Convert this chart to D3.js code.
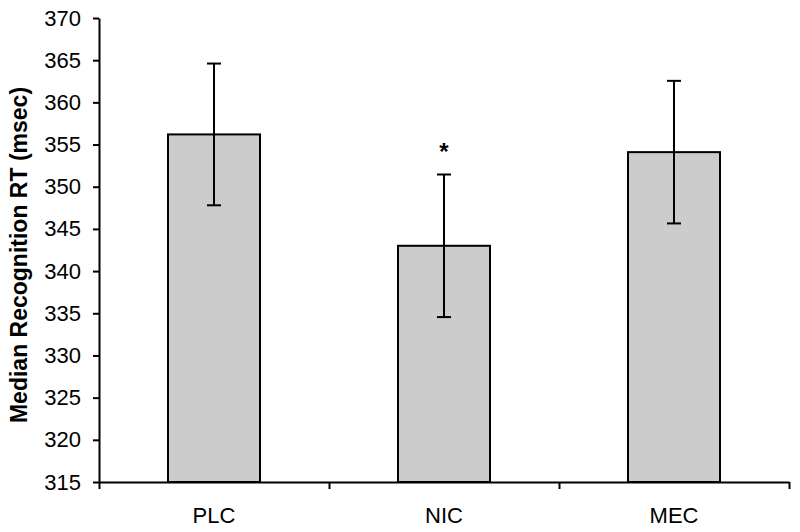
<!DOCTYPE html>
<html>
    <head>
        <meta charset="utf-8">
        <title>Median Recognition RT</title>
        <script src="https://d3js.org/d3.v7.min.js"></script>
        <style>
            body { margin: 0; background: #fff; }
            text { font-family: "Liberation Sans", Arial, sans-serif; }
        </style>
    </head>
    <body>
        <script>
            // Data
            const groups = ["PLC", "NIC", "MEC"];
            const means = [356.2, 343.0, 354.1];
            const errors = [8.4, 8.45, 8.45];
            const marks = ["", "*", ""];
            const yTicks = [315, 320, 325, 330, 335, 340, 345, 350, 355, 360, 365, 370];

            const svgWidth = 800;
            const svgHeight = 532;
            const margin = { top: 18, right: 11, bottom: 50, left: 99 };
            const width = svgWidth - margin.left - margin.right;
            const height = svgHeight - margin.top - margin.bottom;

            const svg = d3.select("body")
                .append("svg")
                    .attr("width", svgWidth)
                    .attr("height", svgHeight);

            const g = svg.append("g")
                .attr("transform", `translate(${margin.left},${margin.top})`);

            // Scales
            const xScale = d3.scaleBand()
                .domain(groups)
                .range([0, width])
                .padding(0);

            const yScale = d3.scaleLinear()
                .domain([315, 370])
                .range([height, 0]);

            const barWidth = xScale.bandwidth() * 0.4;

            // Bars
            g.selectAll(".bar")
                .data(groups)
                .enter()
                .append("rect")
                    .attr("class", "bar")
                    .attr("x", d => xScale(d) + (xScale.bandwidth() - barWidth) / 2)
                    .attr("y", (d, i) => yScale(means[i]))
                    .attr("width", barWidth)
                    .attr("height", (d, i) => height - yScale(means[i]))
                    .style("fill", "#cccccc")
                    .style("stroke", "#000")
                    .style("stroke-width", 2);

            // Error bars
            const cx = d => xScale(d) + xScale.bandwidth() / 2;
            const capHalf = 7;

            g.selectAll(".err")
                .data(groups)
                .enter()
                .append("line")
                    .attr("x1", cx)
                    .attr("x2", cx)
                    .attr("y1", (d, i) => yScale(means[i] + errors[i]))
                    .attr("y2", (d, i) => yScale(means[i] - errors[i]))
                    .style("stroke", "#000")
                    .style("stroke-width", 2);

            ["top", "bottom"].forEach(side => {
                g.selectAll(".cap-" + side)
                    .data(groups)
                    .enter()
                    .append("line")
                        .attr("x1", d => cx(d) - capHalf)
                        .attr("x2", d => cx(d) + capHalf)
                        .attr("y1", (d, i) => yScale(side === "top" ? means[i] + errors[i] : means[i] - errors[i]))
                        .attr("y2", (d, i) => yScale(side === "top" ? means[i] + errors[i] : means[i] - errors[i]))
                        .style("stroke", "#000")
                        .style("stroke-width", 2);
            });

            // Significance mark
            g.selectAll(".mark")
                .data(groups)
                .enter()
                .append("text")
                    .attr("x", cx)
                    .attr("y", (d, i) => yScale(means[i] + errors[i]) - 14)
                    .attr("text-anchor", "middle")
                    .style("font-size", "24px")
                    .style("font-weight", "bold")
                    .text((d, i) => marks[i]);

            // Y axis
            const yAxis = d3.axisLeft(yScale)
                .tickValues(yTicks)
                .tickSize(6)
                .tickPadding(12)
                .tickSizeOuter(0);

            const yG = g.append("g").call(yAxis);
            yG.select(".domain").style("stroke-width", 2);
            yG.selectAll(".tick line").style("stroke-width", 2);
            yG.selectAll("text").style("font-size", "22px").attr("fill", "#000");

            // X axis: boundary ticks
            const edgeScale = d3.scaleLinear()
                .domain([0, groups.length])
                .range([0, width]);

            const edgeAxis = d3.axisBottom(edgeScale)
                .tickValues(d3.range(groups.length + 1))
                .tickFormat("")
                .tickSize(7)
                .tickSizeOuter(0);

            const xG = g.append("g")
                .attr("transform", `translate(0,${height})`)
                .call(edgeAxis);
            xG.select(".domain").style("stroke-width", 2);
            xG.selectAll(".tick line").style("stroke-width", 2);

            // X axis: category labels
            const catAxis = d3.axisBottom(xScale)
                .tickSize(0)
                .tickPadding(25);

            const cG = g.append("g")
                .attr("transform", `translate(0,${height})`)
                .call(catAxis);
            cG.select(".domain").remove();
            cG.selectAll("text").style("font-size", "22px").attr("fill", "#000");

            // Y axis title
            svg.append("text")
                .attr("transform", `translate(27,255) rotate(-90)`)
                .attr("text-anchor", "middle")
                .style("font-size", "23px")
                .style("font-weight", "bold")
                .text("Median Recognition RT (msec)");
        </script>
    </body>
</html>
